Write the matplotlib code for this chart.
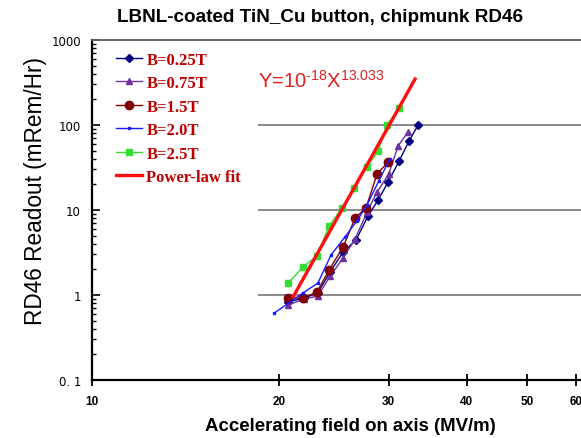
import matplotlib
matplotlib.use("Agg")
import matplotlib.pyplot as plt

# ---- data ----
x_025 = [20.66, 21.92, 23.07, 24.14, 25.33, 26.57, 27.78, 28.83, 29.92, 31.17, 32.33, 33.44]
y_025 = [0.83, 0.92, 1.06, 1.87, 3.2, 4.44, 8.5, 13.1, 21.3, 37.7, 64.8, 100]

x_075 = [20.66, 21.92, 23.07, 24.14, 25.33, 26.48, 27.68, 28.72, 29.99, 31.05, 32.2]
y_075 = [0.76, 0.90, 0.97, 1.67, 2.72, 4.56, 9.47, 16.3, 26.5, 56.6, 82.8]

x_15 = [20.66, 21.84, 22.99, 24.05, 25.33, 26.48, 27.57, 28.72, 29.92]
y_15 = [0.92, 0.92, 1.08, 1.97, 3.67, 8.05, 10.6, 26.5, 36.7]

x_20 = [19.62, 21.84, 23.07, 24.22, 25.5, 26.65, 27.68, 28.9, 30.1]
y_20 = [0.61, 1.06, 1.38, 2.95, 4.81, 7.43, 11.5, 21.9, 39.8]

x_25 = [20.66, 21.84, 22.99, 24.05, 25.23, 26.38, 27.68, 28.83, 29.81, 31.17]
y_25 = [1.38, 2.14, 2.88, 6.48, 10.6, 18.1, 32.1, 49.4, 100, 158]

fit_x = [21.05, 33.06]
fit_y = [0.95, 347.5]

series_labels = ["B=0.25T", "B=0.75T", "B=1.5T", "B=2.0T", "B=2.5T", "Power-law fit"]
x_ticks = [10, 20, 30, 40, 50, 60]
x_ticklabels = ["10", "20", "30", "40", "50", "60"]
y_ticks = [0.1, 1, 10, 100, 1000]
y_ticklabels = ["0. 1", "1", "10", "100", "1000"]
grid_levels = [1, 10, 100]

W, H = 581, 439
fig = plt.figure(figsize=(W / 100, H / 100), dpi=100)
ax = fig.add_axes([92 / W, (H - 381) / H, (W - 92) / W, (381 - 41) / H])
ax.set_xscale("log")
ax.set_yscale("log")
ax.set_xlim(10, 61.1)
ax.set_ylim(0.1, 1000)

# grid lines (start right of legend)
ax.hlines(grid_levels, 18.5, 61.1, colors="#808080", linewidth=1.3, zorder=1)

styles = [
    dict(color="#000080", marker="D", ms=4.0),
    dict(color="#7030A0", marker="^", ms=5.0),
    dict(color="#800000", marker="o", ms=6.0),
    dict(color="#1a1aff", marker="s", ms=2.0),
    dict(color="#33dd33", marker="s", ms=5.0),
]
data = [(x_025, y_025), (x_075, y_075), (x_15, y_15), (x_20, y_20), (x_25, y_25)]
handles = []
for (xs, ys), st, lab in zip(data, styles, series_labels[:5]):
    h, = ax.plot(xs, ys, color=st["color"], lw=1.0, marker=st["marker"],
                 ms=st["ms"], mfc=st["color"], mec=st["color"], label=lab, zorder=3)
    handles.append(h)
hf, = ax.plot(fit_x, fit_y, color="#ff1010", lw=2.4, label=series_labels[5], zorder=4)
handles.append(hf)

# spines
ax.spines["right"].set_visible(False)
ax.spines["top"].set_color("#606060")
ax.spines["top"].set_linewidth(1.3)
ax.spines["left"].set_linewidth(1.6)
ax.spines["bottom"].set_linewidth(1.6)

ax.set_xticks(x_ticks)
ax.set_xticklabels(x_ticklabels)
ax.xaxis.set_minor_locator(matplotlib.ticker.NullLocator())
ax.tick_params(axis="x", which="major", direction="inout", length=8, width=1.3, pad=7,
               labelsize=8.5)
for t in ax.get_xticklabels():
    t.set_fontweight("bold")
    t.set_family("Liberation Sans")
ax.set_yticks(y_ticks)
ax.set_yticklabels(y_ticklabels)
ax.tick_params(axis="y", which="major", direction="in", length=6, width=1.2, pad=8,
               labelsize=8.5)
ax.tick_params(axis="y", which="minor", direction="in", length=3, width=1.0)
ax.yaxis.set_minor_formatter(matplotlib.ticker.NullFormatter())

fig.text(320 / W, 1 - 17 / H, "LBNL-coated TiN_Cu button, chipmunk RD46",
         ha="center", va="center", fontsize=13.6, fontweight="bold", family="Liberation Sans")
fig.text(36 / W, 1 - 191 / H, "RD46 Readout (mRem/Hr)", rotation=90,
         ha="center", va="center", fontsize=16.3, family="Liberation Sans")
fig.text(350 / W, 1 - 427 / H, "Accelerating field on axis (MV/m)",
         ha="center", va="center", fontsize=13.4, family="Liberation Sans", fontweight="bold")
fig.text(258 / W, 1 - 88 / H, "Y=10$^{\\mathregular{\u201018}}$X$^{\\mathregular{13.033}}$",
         ha="left", va="baseline", fontsize=14.5, color="#e02020", family="Liberation Sans")

leg = ax.legend(handles=handles, loc="upper left", bbox_to_anchor=(109 / W, 1 - 46 / H),
                bbox_transform=fig.transFigure, frameon=False, handlelength=1.6,
                handletextpad=0.25, labelspacing=0.45, borderaxespad=0,
                prop={"family": "Liberation Serif", "weight": "bold", "size": 12})
for t in leg.get_texts():
    t.set_color("#c00000")

fig.savefig("out.png", dpi=100)
